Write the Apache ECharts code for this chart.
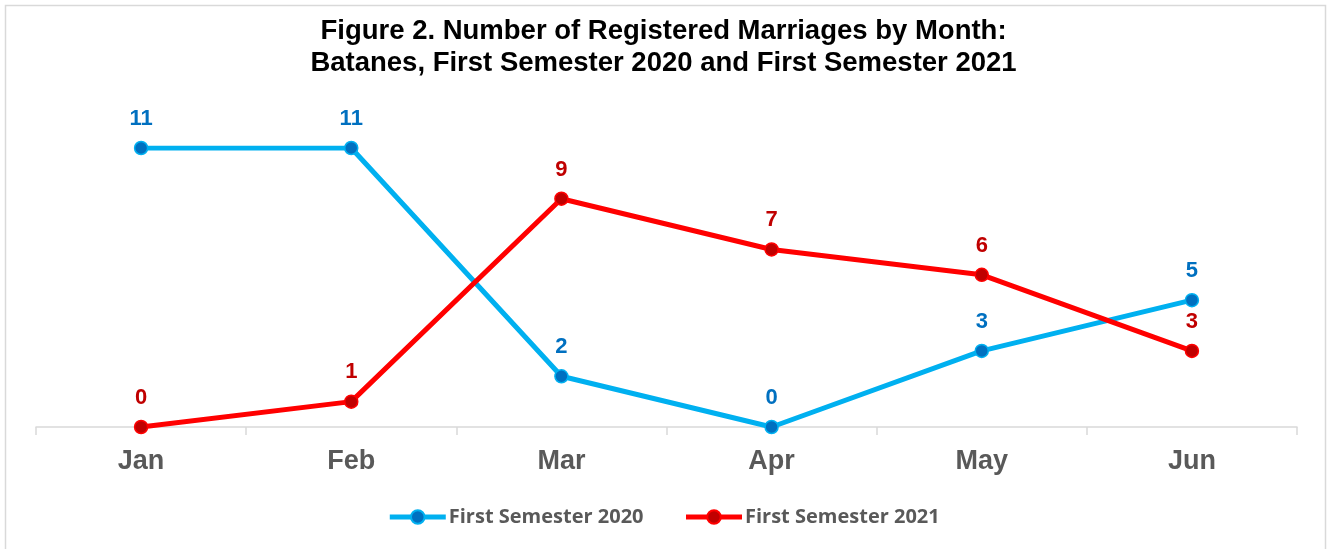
<!DOCTYPE html>
<html>
<head>
<meta charset="utf-8">
<script src="https://cdn.jsdelivr.net/npm/echarts@6/dist/echarts.min.js"></script>
<style>html,body{margin:0;padding:0;background:#fff;}#c{width:1327px;height:549px;}</style>
</head>
<body>
<div id="c"></div>
<script>
const months = ['Jan', 'Feb', 'Mar', 'Apr', 'May', 'Jun'];
const sem2020 = [11, 11, 2, 0, 3, 5];
const sem2021 = [0, 1, 9, 7, 6, 3];
const seriesNames = ['First Semester 2020', 'First Semester 2021'];
const titleText = 'Figure 2. Number of Registered Marriages by Month:\nBatanes, First Semester 2020 and First Semester 2021';

const chart = echarts.init(document.getElementById('c'), null, {renderer: 'canvas'});
function mkSeries(name, data, lineColor, dotColor) {
  return {
    name: name, type: 'line', data: data,
    symbol: 'circle', symbolSize: 13,
    lineStyle: {color: lineColor, width: 5},
    itemStyle: {color: dotColor, borderColor: lineColor, borderWidth: 1.5},
    label: {show: true, position: 'top', distance: 11, color: dotColor,
      fontFamily: 'Liberation Sans', fontWeight: 'bold', fontSize: 22},
    emphasis: {disabled: true}, animation: false
  };
}
chart.setOption({
  animation: false,
  backgroundColor: '#fff',
  graphic: [{type: 'rect', shape: {x: 5.5, y: 5.5, width: 1320, height: 560},
    style: {fill: 'none', stroke: '#D9D9D9', lineWidth: 1.5}, silent: true}],
  title: {text: titleText, left: 'center', top: 10,
    textStyle: {fontFamily: 'Liberation Sans', fontWeight: 'bold', fontSize: 27.5, color: '#000', lineHeight: 32}},
  legend: {bottom: 17, left: 'center', itemWidth: 56, itemHeight: 17, itemGap: 40,
    data: seriesNames,
    lineStyle: {width: 5},
    textStyle: {fontFamily: 'Open Sans', fontWeight: 'bold', fontSize: 20, color: '#595959', padding: [0, 0, 0, -2]}},
  grid: {left: 36, right: 30, top: 148, bottom: 122},
  xAxis: {type: 'category', data: months, boundaryGap: true,
    axisLine: {lineStyle: {color: '#D9D9D9', width: 1.5}},
    axisTick: {show: true, length: 8, lineStyle: {color: '#D9D9D9', width: 1.5}},
    axisLabel: {fontFamily: 'Liberation Sans', fontWeight: 'bold', fontSize: 27, color: '#595959', margin: 21}},
  yAxis: {type: 'value', min: 0, max: 11, show: false, splitLine: {show: false}},
  series: [
    mkSeries(seriesNames[0], sem2020, '#00B0F0', '#0070C0'),
    mkSeries(seriesNames[1], sem2021, '#FF0000', '#C00000')
  ]
});
</script>
</body>
</html>
